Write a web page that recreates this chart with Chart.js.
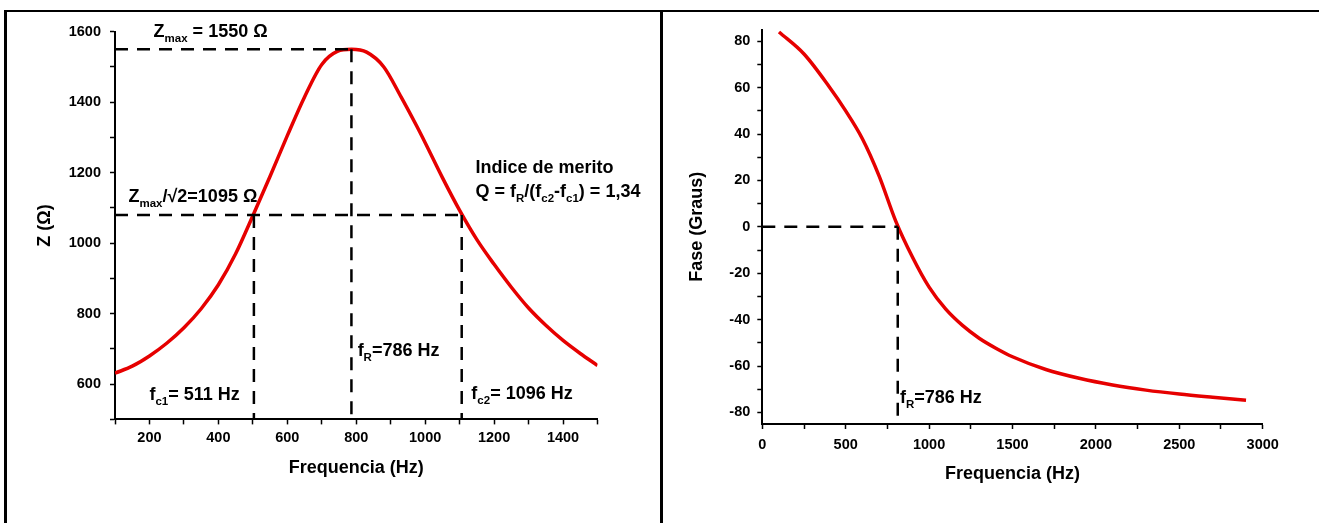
<!DOCTYPE html>
<html>
<head>
<meta charset="utf-8">
<script src="https://cdn.jsdelivr.net/npm/chart.js@4.4.0/dist/chart.umd.min.js"></script>
<style>
  html, body { margin: 0; padding: 0; background: #fff; }
  body { width: 1319px; height: 523px; position: relative; overflow: hidden; }
  .rule { position: absolute; background: #000; }
  #topRule { left: 4px; top: 10px; width: 1315px; height: 2px; }
  #leftRule { left: 4px; top: 10px; width: 3px; height: 513px; }
  #midRule { left: 660px; top: 10px; width: 3px; height: 513px; }
  .box { position: absolute; top: 14px; height: 500px; }
  #boxZ { left: 8px; width: 652px; }
  #boxF { left: 666px; width: 650px; }
</style>
</head>
<body>
<div class="rule" id="topRule"></div>
<div class="rule" id="leftRule"></div>
<div class="rule" id="midRule"></div>
<div class="box" id="boxZ"><canvas id="zChart" width="652" height="500"></canvas></div>
<div class="box" id="boxF"><canvas id="faseChart" width="650" height="500"></canvas></div>

<script>
// ---- dados ----
// Impedancia Z (Ohm) x frequencia (Hz)
const freqZ = [100, 150, 200, 250, 300, 350, 400, 450, 500, 550, 600, 650, 700, 745, 786, 830, 880, 930, 975, 1000, 1050, 1100, 1150, 1200, 1250, 1300, 1350, 1400, 1450, 1500];
const impedance = [631, 651, 680, 716, 760, 814, 882, 970, 1078, 1190, 1305, 1415, 1507, 1544, 1550, 1542, 1500, 1415, 1333, 1285, 1186, 1093, 1010, 940, 875, 816, 767, 724, 687, 653];

// Fase (graus) x frequencia (Hz)
const freqFase = [100, 250, 400, 500, 600, 700, 800, 900, 1000, 1100, 1200, 1300, 1400, 1500, 1700, 1900, 2100, 2300, 2500, 2700, 2900];
const fase = [84, 74.5, 60.5, 50, 38, 22, 2.5, -13, -26, -35.5, -42.5, -48, -52.3, -56, -61.5, -65.3, -68.2, -70.4, -72.1, -73.5, -74.8];

// linhas tracejadas (valores marcados)
const fRes = 786, zMax = 1550, zCorte = 1080;
const fCorte = [503, 1106];
const fResFase = 812;

// eixos e marcas
const zRange = [500, 1600], zFreqRange = [100, 1500];
const faseRange = [-85, 85], faseFreqRange = [0, 3000];
const zTicks = [500, 600, 700, 800, 900, 1000, 1100, 1200, 1300, 1400, 1500, 1600];
const zLabels = [600, 800, 1000, 1200, 1400, 1600];
const zFreqTicks = [100, 200, 300, 400, 500, 600, 700, 800, 900, 1000, 1100, 1200, 1300, 1400, 1500];
const zFreqLabels = [200, 400, 600, 800, 1000, 1200, 1400];
const faseTicks = [-80, -70, -60, -50, -40, -30, -20, -10, 0, 10, 20, 30, 40, 50, 60, 70, 80];
const faseLabels = [-80, -60, -40, -20, 0, 20, 40, 60, 80];
const faseFreqTicks = [0, 250, 500, 750, 1000, 1250, 1500, 1750, 2000, 2250, 2500, 2750, 3000];
const faseFreqLabels = [0, 500, 1000, 1500, 2000, 2500, 3000];

const FONT = '"Liberation Sans", Arial, sans-serif';
Chart.defaults.font.family = FONT;
Chart.defaults.color = '#000';

const toXY = (xs, ys) => xs.map((x, i) => ({ x: x, y: ys[i] }));

function dashed(points) {
  return {
    data: points,
    borderColor: '#000',
    borderWidth: 2.5,
    borderDash: [13, 9],
    pointRadius: 0,
    fill: false
  };
}

function curve(points) {
  return {
    data: points,
    borderColor: 'rgb(230,0,0)',
    borderWidth: 3.5,
    pointRadius: 0,
    fill: false,
    cubicInterpolationMode: 'monotone'
  };
}

// texto com subscritos, posicionado em coordenadas de dados
const notesPlugin = {
  id: 'notes',
  afterDatasetsDraw(chart, args, opts) {
    const { ctx, scales: { x, y } } = chart;
    ctx.save();
    ctx.fillStyle = '#000';
    ctx.textBaseline = 'alphabetic';
    ctx.textAlign = 'left';
    opts.items.forEach(item => {
      let px = x.getPixelForValue(item.at[0]);
      const py = y.getPixelForValue(item.at[1]);
      item.parts.forEach(p => {
        const sub = Array.isArray(p);
        const t = sub ? p[0] : p;
        ctx.font = 'bold ' + (sub ? 11.5 : 18) + 'px ' + FONT;
        ctx.fillText(t, px, py + (sub ? 5 : 0));
        px += ctx.measureText(t).width;
      });
    });
    ctx.restore();
  }
};

function scaleBase(range, tickVals, labels, tickPad) {
  return {
    type: 'linear', min: range[0], max: range[1],
    afterBuildTicks(s) { s.ticks = tickVals.map(v => ({ value: v })); },
    border: { display: true, color: '#000', width: 2 },
    grid: { display: true, drawOnChartArea: false, drawTicks: true, tickLength: 5, tickWidth: 1.5, tickColor: '#000' },
    ticks: {
      autoSkip: false, maxRotation: 0, padding: tickPad,
      font: { size: 14.5, weight: 'bold' },
      callback: v => (labels.includes(v) ? v : '')
    }
  };
}

function axisX(range, tickVals, labels, tickPad, titlePad, height) {
  const s = scaleBase(range, tickVals, labels, tickPad);
  s.afterFit = sc => { sc.height = height; };
  s.title = { display: true, text: 'Frequencia (Hz)', font: { size: 18, weight: 'bold' }, padding: { top: 0, bottom: titlePad } };
  return s;
}

function axisY(range, tickVals, labels, title, tickPad, titlePad, width) {
  const s = scaleBase(range, tickVals, labels, tickPad);
  s.afterFit = sc => { sc.width = width; };
  s.title = { display: true, text: title, font: { size: 18, weight: 'bold' }, padding: { top: titlePad, bottom: 0 } };
  return s;
}

const baseOptions = {
  responsive: false,
  animation: false,
  plugins: { legend: { display: false }, tooltip: { enabled: false } }
};

window.addEventListener('DOMContentLoaded', () => {
  // grafico da impedancia
  new Chart(document.getElementById('zChart').getContext('2d'), {
    type: 'line',
    data: {
      datasets: [
        dashed([{ x: zFreqRange[0], y: zMax }, { x: fRes, y: zMax }]),
        dashed([{ x: fRes, y: zMax }, { x: fRes, y: zRange[0] }]),
        dashed([{ x: zFreqRange[0], y: zCorte }, { x: fCorte[1], y: zCorte }]),
        dashed([{ x: fCorte[0], y: zCorte }, { x: fCorte[0], y: zRange[0] }]),
        dashed([{ x: fCorte[1], y: zCorte }, { x: fCorte[1], y: zRange[0] }]),
        curve(toXY(freqZ, impedance))
      ]
    },
    options: Object.assign({}, baseOptions, {
      layout: { padding: { left: 0, right: 62.5, top: 14.3, bottom: 0 } },
      scales: {
        x: axisX(zFreqRange, zFreqTicks, zFreqLabels, 5, 35, 94.6),
        y: axisY(zRange, zTicks, zLabels, 'Z (\u03A9)', 9, 26, 107)
      },
      plugins: Object.assign({}, baseOptions.plugins, {
        notes: {
          items: [
            { at: [212, 1585], parts: ['Z', ['max'], ' = 1550 \u03A9'] },
            { at: [139, 1117], parts: ['Z', ['max'], '/\u221A2=1095 \u03A9'] },
            { at: [1146, 1200], parts: ['Indice de merito'] },
            { at: [1146, 1131], parts: ['Q = f', ['R'], '/(f', ['c2'], '-f', ['c1'], ') = 1,34'] },
            { at: [804, 681], parts: ['f', ['R'], '=786 Hz'] },
            { at: [200, 555], parts: ['f', ['c1'], '= 511 Hz'] },
            { at: [1134, 557], parts: ['f', ['c2'], '= 1096 Hz'] }
          ]
        }
      })
    }),
    plugins: [notesPlugin]
  });

  // grafico da fase
  new Chart(document.getElementById('faseChart').getContext('2d'), {
    type: 'line',
    data: {
      datasets: [
        dashed([{ x: faseFreqRange[0], y: 0 }, { x: fResFase, y: 0 }]),
        dashed([{ x: fResFase, y: 0 }, { x: fResFase, y: faseRange[0] }]),
        curve(toXY(freqFase, fase))
      ]
    },
    options: Object.assign({}, baseOptions, {
      layout: { padding: { left: 0, right: 53.3, top: 6.7, bottom: 0 } },
      scales: {
        x: axisX(faseFreqRange, faseFreqTicks, faseFreqLabels, 7.5, 29, 90),
        y: axisY(faseRange, faseTicks, faseLabels, 'Fase (Graus)', 7, 20, 96.3)
      },
      plugins: Object.assign({}, baseOptions.plugins, {
        notes: {
          items: [
            { at: [825, -76], parts: ['f', ['R'], '=786 Hz'] }
          ]
        }
      })
    }),
    plugins: [notesPlugin]
  });
});
</script>
</body>
</html>
